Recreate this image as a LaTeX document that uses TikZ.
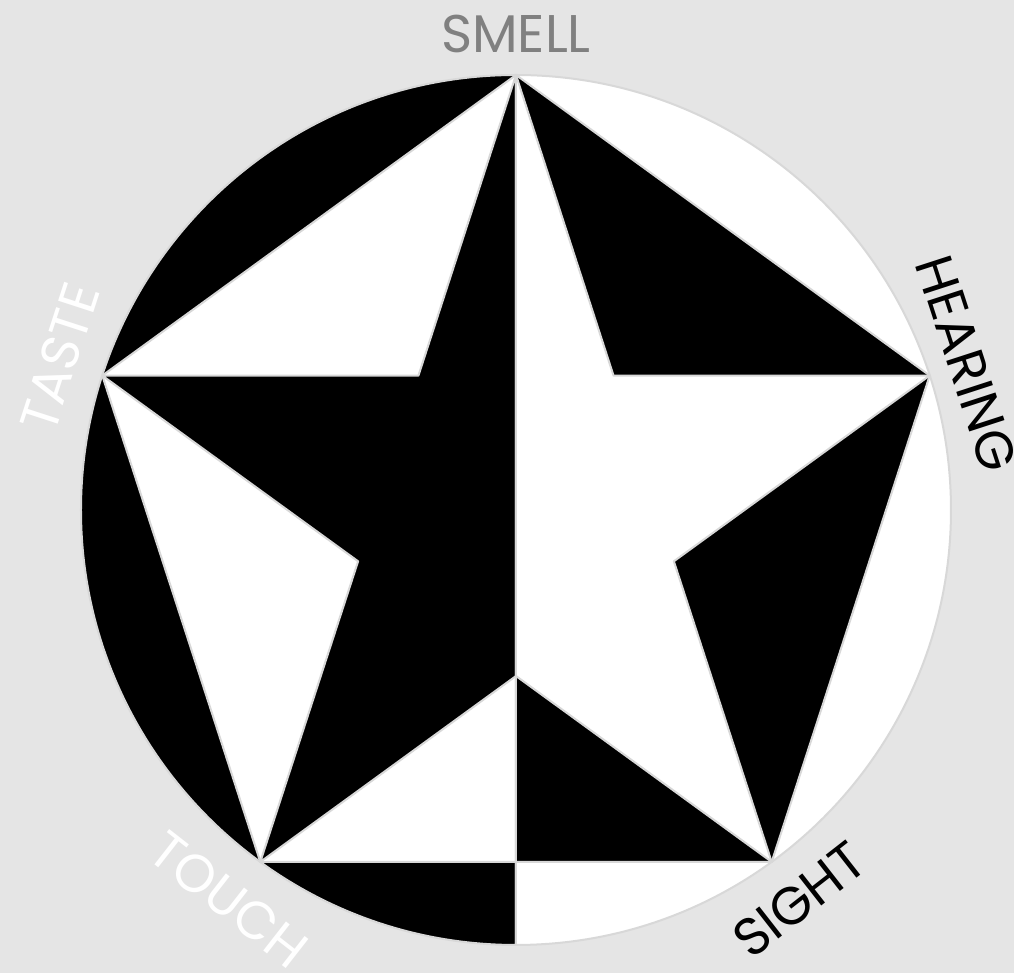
\documentclass[tikz,border=0pt]{standalone}
\usepackage{fontspec}
\setmainfont{Poppins}
\usepackage{tikz}
\usetikzlibrary{calc}

\definecolor{bggray}{HTML}{E5E5E5}
\definecolor{edgegray}{HTML}{D8D8D8}
\definecolor{smellgray}{HTML}{808080}

\begin{document}
\begin{tikzpicture}[
  x=0.5pt,y=0.5pt,
  blackpart/.style={fill=black,draw=edgegray,line width=1pt,line join=round},
  whitepart/.style={fill=white,draw=edgegray,line width=1pt,line join=round},
  sense/.style={font=\fontsize{26.5}{30}\selectfont,inner sep=0pt}
]

% ---- page ----
\fill[bggray] (-516,-463) rectangle (498,510);
\useasboundingbox (-516,-463) rectangle (498,510);

% ---- pentagon and star points ----
\coordinate (smell) at (90:435);
\coordinate (hearing) at (18:435);
\coordinate (sight) at (-54:435);
\coordinate (touch) at (234:435);
\coordinate (taste) at (162:435);
\coordinate (inUL) at (126:166);
\coordinate (inUR) at (54:166);
\coordinate (inLR) at (-18:166);
\coordinate (inB) at (270:166);
\coordinate (inLL) at (198:166);
\coordinate (baseMid) at (smell |- touch);

% ---- circle halves ----
\draw[blackpart] (0,435) arc (90:270:435) -- cycle;
\draw[whitepart] (0,435) arc (90:-90:435) -- cycle;

% ---- pentagon halves ----
\draw[whitepart] (smell) -- (taste) -- (touch) -- (baseMid) -- cycle;
\draw[blackpart] (smell) -- (hearing) -- (sight) -- (baseMid) -- cycle;

% ---- star halves ----
\draw[blackpart] (smell) -- (inUL) -- (taste) -- (inLL) -- (touch) -- (inB) -- cycle;
\draw[whitepart] (smell) -- (inUR) -- (hearing) -- (inLR) -- (sight) -- (inB) -- cycle;

% ---- senses ----
\node[sense,text=smellgray] (lsmell) at (90:476) {SMELL};
\node[sense,text=black,rotate=-72] (lhearing) at (18:474) {HEARING};
\node[sense,text=white,rotate=72] (ltaste) at (161.5:481) {TASTE};
\node[sense,text=white,rotate=-38] (ltouch) at (233.6:484) {TOUCH};
\node[sense,text=black,rotate=38] (lsight) at (-54:482) {SIGHT};

\end{tikzpicture}
\end{document}
